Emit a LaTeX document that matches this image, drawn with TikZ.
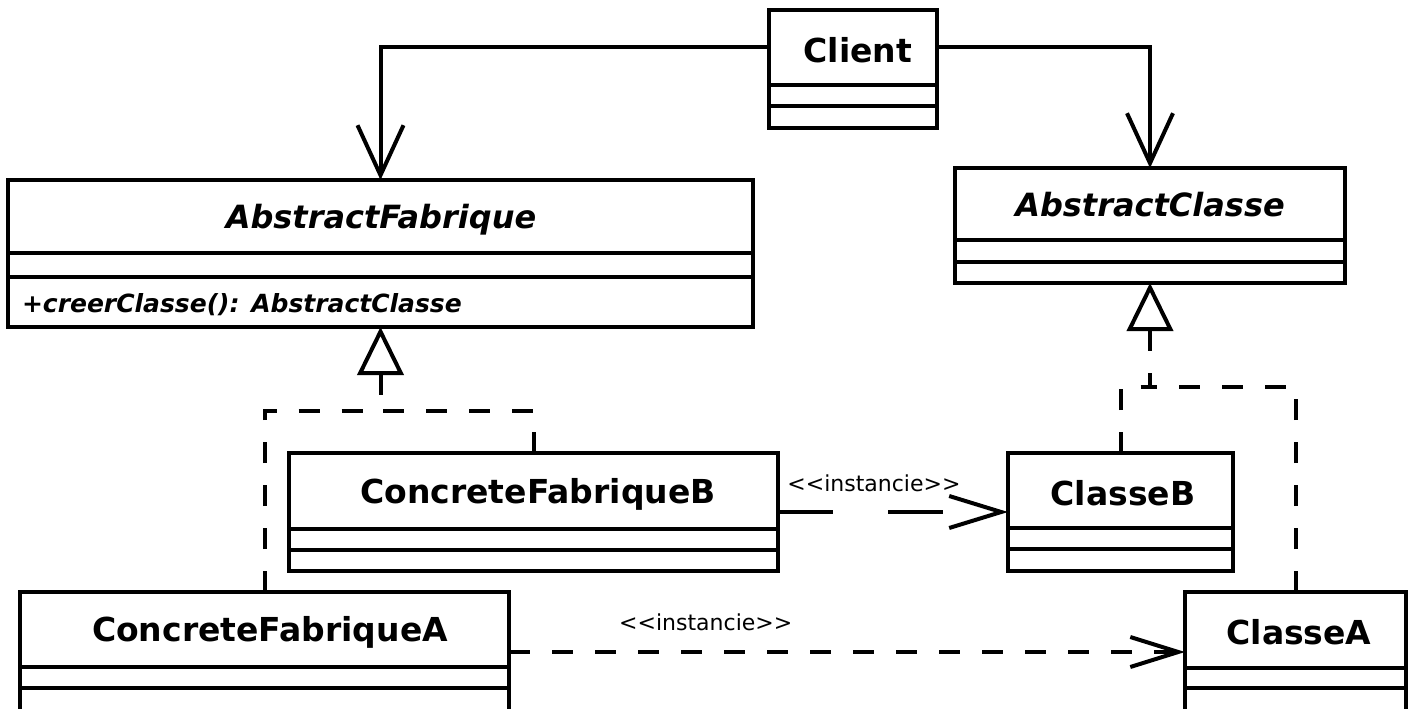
\documentclass[tikz,border=0pt]{standalone}
\usepackage{fontspec}
\setsansfont{DejaVu Sans}
\usetikzlibrary{arrows.meta}
\newcommand\umlclass[7]{%
  \node[classbox, minimum width={(#4-#2)*1pt}, minimum height={(#5-#3)*1pt}] (#1) at (#2,#3) {};
  \draw (#2,#6) -- (#4,#6);
  \draw (#2,#7) -- (#4,#7);
}
\begin{document}
\begin{tikzpicture}[x=1pt,y=-1pt,line width=4pt,
  classbox/.style={draw, rectangle, inner sep=0pt, outer sep=0pt, anchor=north west, line width=4pt},
  cname/.style={font=\fontsize{33}{38}\selectfont\sffamily\bfseries, inner sep=0pt},
  cnameit/.style={font=\fontsize{32}{37}\selectfont\sffamily\bfseries\itshape, inner sep=0pt},
  opname/.style={font=\fontsize{25}{29}\selectfont\sffamily\bfseries\itshape, inner sep=0pt, anchor=west},
  lbl/.style={font=\fontsize{22}{26}\selectfont\sffamily, inner sep=0pt},
  assoc/.style={-{Straight Barb[length=50pt,width=46pt]}},
  dashedline/.style={dash pattern=on 21pt off 22pt},
  realtip/.style={{Triangle[open,length=48pt,width=46pt]}-},
]
\useasboundingbox (0,0) rectangle (1414,709);

% classes
\umlclass{client}{769}{10}{937}{128}{85}{106}
\umlclass{af}{8}{180}{753}{327}{253}{277}
\umlclass{ac}{955}{168}{1345}{283}{240}{262}
\umlclass{cfb}{289}{453}{778}{571}{529}{550}
\umlclass{classeb}{1008}{453}{1233}{571}{528}{549}
\umlclass{cfa}{20}{592}{509}{712}{667}{688}
\umlclass{classea}{1185}{592}{1406}{712}{668}{688}

% class names
\node[cname] (clientname) at (858,50) {Client};
\node[cnameit] (afname) at (381,220) {AbstractFabrique};
\node[opname] (afop) at (20,305) {+creerClasse(): AbstractClasse};
\node[cnameit] (acname) at (1150,205) {AbstractClasse};
\node[cname] (cfbname) at (538,494) {ConcreteFabriqueB};
\node[cname] (classebname) at (1123,493) {ClasseB};
\node[cname] (cfaname) at (270,632) {ConcreteFabriqueA};
\node[cname] (classeaname) at (1299,632) {ClasseA};

% associations from Client
\draw[assoc] ([yshift=22pt]client.west) -| (af.north);
\draw[assoc] ([yshift=22pt]client.east) -| (ac.north);

% realization to AbstractFabrique
\coordinate (jf) at (380.5,411);
\draw[dashedline] (cfb.north) |- (jf);
\draw[dashedline] (cfa.north) |- (jf);
\draw[dashedline, realtip] (af.south) -- (jf);

% realization to AbstractClasse
\coordinate (jc) at (1150,387);
\draw[dashedline] (classeb.north) |- (jc);
\draw[dashedline] (classea.north) |- (jc);
\draw[dashedline, realtip] (ac.south) -- (jc);

% dependencies
\draw[dash pattern=on 55pt off 55pt, -{Straight Barb[length=52pt,width=32pt]}]
  (cfb.east) -- (classeb.west)
  node[lbl, pos=0.417, yshift=29pt] {<\kern0pt<instancie>\kern0pt>};
\draw[dashedline, -{Straight Barb[length=48pt,width=30pt]}]
  (cfa.east) -- (classea.west)
  node[lbl, pos=0.291, yshift=30pt] {<\kern0pt<instancie>\kern0pt>};
\end{tikzpicture}
\end{document}
